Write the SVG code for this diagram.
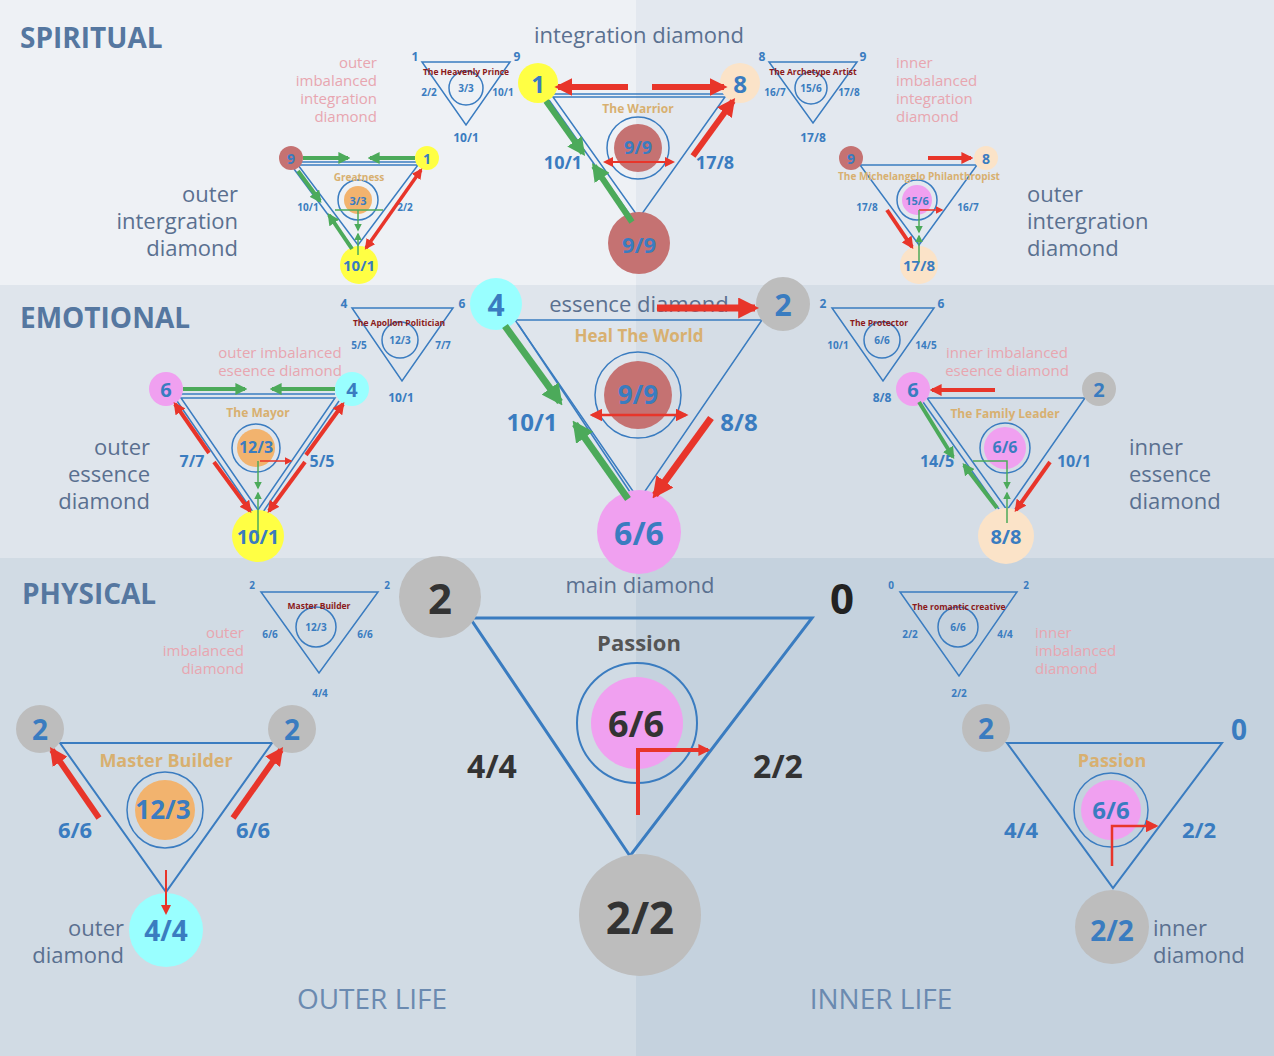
<svg xmlns="http://www.w3.org/2000/svg" width="1274" height="1056" viewBox="0 0 1274 1056">
<defs>
<marker id="hr" viewBox="0 0 10 10" refX="8" refY="5" markerWidth="3" markerHeight="3" orient="auto-start-reverse"><path d="M0,0L10,5L0,10z" fill="#e8352a"/></marker>
<marker id="hg" viewBox="0 0 10 10" refX="8" refY="5" markerWidth="3" markerHeight="3" orient="auto-start-reverse"><path d="M0,0L10,5L0,10z" fill="#4caa5a"/></marker>
<marker id="hrs" viewBox="0 0 10 10" refX="8" refY="5" markerWidth="5" markerHeight="5" orient="auto-start-reverse"><path d="M0,0L10,5L0,10z" fill="#e8352a"/></marker>
<marker id="hgs" viewBox="0 0 10 10" refX="8" refY="5" markerWidth="5" markerHeight="5" orient="auto-start-reverse"><path d="M0,0L10,5L0,10z" fill="#4caa5a"/></marker>
</defs>
<style>
text{font-family:"Open Sans","Noto Sans","DejaVu Sans",sans-serif;text-anchor:middle;dominant-baseline:central}
.b{fill:#3a7cc0;font-weight:bold}
.tri{fill:none;stroke:#3a7cc0;stroke-width:1.5}
.tri2{fill:none;stroke:#3a7cc0;stroke-width:3}
.ring{fill:none;stroke:#3a7cc0;stroke-width:1.5}
.gold{fill:#d8b070;font-weight:bold}
.dr{fill:#8b1a1a;font-weight:bold;font-size:8.5px}
.pk{fill:#e8a6b0;font-size:15px}
.gl{fill:#5a7090;font-size:22px}
.sec{fill:#5577a0;font-size:28px;font-weight:bold;text-anchor:start}
.r{stroke:#e8352a;fill:none}
.g{stroke:#4caa5a;fill:none}
.sb{fill:#3a7cc0;font-weight:bold;font-size:10px}
.sc{fill:#3a7cc0;font-weight:bold;font-size:12px}
</style>
<rect x="0" y="0" width="636" height="285" fill="#eef1f5"/>
<rect x="636" y="0" width="638" height="285" fill="#e3e8ef"/>
<rect x="0" y="285" width="636" height="273" fill="#dfe5ec"/>
<rect x="636" y="285" width="638" height="273" fill="#d5dde6"/>
<rect x="0" y="558" width="636" height="498" fill="#d1dbe4"/>
<rect x="636" y="558" width="638" height="498" fill="#c5d2de"/>
<text class="sec" x="20" y="37">SPIRITUAL</text>
<text class="sec" x="20" y="317">EMOTIONAL</text>
<text class="sec" x="22" y="593">PHYSICAL</text>
<text x="372" y="998" fill="#6b8ab0" font-size="28">OUTER LIFE</text>
<text x="881" y="998" fill="#6b8ab0" font-size="28">INNER LIFE</text>

<g id="heavenly-prince">
<polygon class="tri" points="422,62 510,62 466,125"/>
<circle class="ring" cx="466" cy="88" r="17"/>
<text class="dr" x="466" y="71">The Heavenly Prince</text>
<text class="sb" x="466" y="88">3/3</text>
<text class="sc" x="415" y="56">1</text><text class="sc" x="517" y="56">9</text>
<text class="sb" x="429" y="92">2/2</text><text class="sb" x="503" y="92">10/1</text>
<text class="sc" x="466" y="137">10/1</text>
</g>
<g id="archetype-artist">
<polygon class="tri" points="769,62 857,62 813,123"/>
<circle class="ring" cx="811" cy="88" r="16"/>
<text class="dr" x="813" y="71">The Archetype Artist</text>
<text class="sb" x="811" y="88">15/6</text>
<text class="sc" x="762" y="56">8</text><text class="sc" x="863" y="56">9</text>
<text class="sb" x="775" y="92">16/7</text><text class="sb" x="849" y="92">17/8</text>
<text class="sc" x="813" y="137">17/8</text>
</g>
<g id="spiritual-labels">
<text class="pk" x="377" y="62" style="text-anchor:end">outer</text>
<text class="pk" x="377" y="80" style="text-anchor:end">imbalanced</text>
<text class="pk" x="377" y="98" style="text-anchor:end">integration</text>
<text class="pk" x="377" y="116" style="text-anchor:end">diamond</text>
<text class="pk" x="896" y="62" style="text-anchor:start">inner</text>
<text class="pk" x="896" y="80" style="text-anchor:start">imbalanced</text>
<text class="pk" x="896" y="98" style="text-anchor:start">integration</text>
<text class="pk" x="896" y="116" style="text-anchor:start">diamond</text>
<text class="gl" x="238" y="193" style="text-anchor:end">outer</text>
<text class="gl" x="238" y="220" style="text-anchor:end">intergration</text>
<text class="gl" x="238" y="247" style="text-anchor:end">diamond</text>
<text class="gl" x="1027" y="193" style="text-anchor:start">outer</text>
<text class="gl" x="1027" y="220" style="text-anchor:start">intergration</text>
<text class="gl" x="1027" y="247" style="text-anchor:start">diamond</text>
<text class="gl" x="639" y="34">integration diamond</text>
</g>
<g id="warrior">
<polygon class="tri" points="553,97 725,97 639,218"/>
<line class="tri" x1="549" y1="100" x2="635" y2="222"/>
<line class="tri" x1="553" y1="94" x2="725" y2="94"/>
<circle cx="639" cy="243" r="31" fill="#c57272"/>
<text class="b" x="639" y="244" font-size="22">9/9</text>
<circle cx="538" cy="83" r="20" fill="#ffff44"/>
<text class="b" x="538" y="83" font-size="24">1</text>
<circle cx="740" cy="83" r="20" fill="#fbe3c8"/>
<text class="b" x="740" y="83" font-size="24">8</text>
<circle class="ring" cx="638" cy="148" r="31"/>
<circle cx="638" cy="148" r="24" fill="#c57272"/>
<text class="b" x="638" y="147" font-size="18">9/9</text>
<text class="gold" x="638" y="108" font-size="12">The Warrior</text>
<text class="b" x="563" y="162" font-size="18">10/1</text>
<text class="b" x="715" y="162" font-size="18">17/8</text>
</g>
<g id="greatness">
<polygon class="tri" points="298,165 418,165 358,245"/>
<line class="tri" x1="294" y1="169" x2="352" y2="247"/>
<line class="tri" x1="298" y1="162" x2="418" y2="162"/>
<circle cx="291" cy="158" r="12" fill="#c57272"/><text class="b" x="291" y="158" font-size="14">9</text>
<circle cx="427" cy="158" r="12" fill="#ffff44"/><text class="b" x="427" y="158" font-size="14">1</text>
<circle cx="359" cy="265" r="19" fill="#ffff44"/><text class="b" x="359" y="265" font-size="15">10/1</text>
<circle class="ring" cx="358" cy="200" r="20"/>
<circle cx="358" cy="200" r="14" fill="#f2b36e"/>
<text class="b" x="358" y="200" font-size="11">3/3</text>
<text class="gold" x="359" y="177" font-size="10">Greatness</text>
<text class="sb" x="308" y="207">10/1</text><text class="sb" x="405" y="207">2/2</text>
</g>
<g id="michelangelo">
<polygon class="tri" points="860,165 977,165 919,245"/>
<circle cx="851" cy="158" r="12" fill="#c57272"/><text class="b" x="851" y="158" font-size="14">9</text>
<circle cx="986" cy="158" r="12" fill="#fbe3c8"/><text class="b" x="986" y="158" font-size="14">8</text>
<circle cx="919" cy="265" r="19" fill="#fbe3c8"/><text class="b" x="919" y="265" font-size="15">17/8</text>
<circle class="ring" cx="917" cy="200" r="20"/>
<circle cx="917" cy="200" r="15" fill="#f0a0f0"/>
<text class="b" x="917" y="200" font-size="11">15/6</text>
<text class="gold" x="919" y="176" font-size="10">The Michelangelo Philanthropist</text>
<text class="sb" x="867" y="207">17/8</text><text class="sb" x="968" y="207">16/7</text>
</g>

<g id="apollon">
<polygon class="tri" points="352,308 453,308 402,381"/>
<circle class="ring" cx="400" cy="340" r="18"/>
<text class="dr" x="399" y="322">The Apollon Politician</text>
<text class="sb" x="400" y="340">12/3</text>
<text class="sc" x="344" y="303">4</text><text class="sc" x="462" y="303">6</text>
<text class="sb" x="359" y="345">5/5</text><text class="sb" x="443" y="345">7/7</text>
<text class="sc" x="401" y="397">10/1</text>
</g>
<g id="protector">
<polygon class="tri" points="832,308 934,308 883,381"/>
<circle class="ring" cx="882" cy="340" r="18"/>
<text class="dr" x="879" y="322">The Protector</text>
<text class="sb" x="882" y="340">6/6</text>
<text class="sc" x="823" y="303">2</text><text class="sc" x="941" y="303">6</text>
<text class="sb" x="838" y="345">10/1</text><text class="sb" x="926" y="345">14/5</text>
<text class="sc" x="882" y="397">8/8</text>
</g>
<g id="emotional-labels">
<text class="pk" x="280" y="352">outer imbalanced</text>
<text class="pk" x="280" y="370">eseence diamond</text>
<text class="pk" x="1007" y="352">inner imbalanced</text>
<text class="pk" x="1007" y="370">eseence diamond</text>
<text class="gl" x="150" y="446" style="text-anchor:end">outer</text>
<text class="gl" x="150" y="473" style="text-anchor:end">essence</text>
<text class="gl" x="150" y="500" style="text-anchor:end">diamond</text>
<text class="gl" x="1129" y="446" style="text-anchor:start">inner</text>
<text class="gl" x="1129" y="473" style="text-anchor:start">essence</text>
<text class="gl" x="1129" y="500" style="text-anchor:start">diamond</text>
<text class="gl" x="639" y="303">essence diamond</text>
</g>
<g id="heal-the-world">
<polygon class="tri" points="515,320 762,320 639,500"/>
<line class="tri" x1="518" y1="324" x2="632" y2="495"/>
<circle cx="496" cy="304" r="26" fill="#99ffff"/><text class="b" x="496" y="304" font-size="30">4</text>
<circle cx="783" cy="304" r="27" fill="#bdbdbd"/><text class="b" x="783" y="304" font-size="30">2</text>
<circle cx="639" cy="532" r="42" fill="#f0a0f0"/><text class="b" x="639" y="532" font-size="32">6/6</text>
<circle class="ring" cx="638" cy="395" r="43"/>
<circle cx="638" cy="395" r="34" fill="#c57272"/>
<text class="b" x="638" y="394" font-size="26">9/9</text>
<text class="gold" x="639" y="335" font-size="17">Heal The World</text>
<text class="b" x="532" y="421" font-size="24">10/1</text>
<text class="b" x="739" y="421" font-size="24">8/8</text>
</g>
<g id="mayor">
<polygon class="tri" points="181,398 335,398 258,510"/>
<line class="tri" x1="181" y1="394" x2="335" y2="394"/>
<line class="tri" x1="177" y1="401" x2="253" y2="512"/>
<line class="tri" x1="339" y1="401" x2="263" y2="512"/>
<circle cx="166" cy="389" r="17" fill="#f0a0f0"/><text class="b" x="166" y="389" font-size="20">6</text>
<circle cx="352" cy="389" r="17" fill="#99ffff"/><text class="b" x="352" y="389" font-size="20">4</text>
<circle cx="258" cy="536" r="26" fill="#ffff44"/><text class="b" x="258" y="536" font-size="20">10/1</text>
<circle class="ring" cx="256" cy="448" r="24"/>
<circle cx="256" cy="448" r="19" fill="#f2b36e"/>
<text class="b" x="256" y="447" font-size="16">12/3</text>
<text class="gold" x="258" y="412" font-size="12">The Mayor</text>
<text class="b" x="192" y="461" font-size="16">7/7</text>
<text class="b" x="322" y="461" font-size="16">5/5</text>
</g>
<g id="family-leader">
<polygon class="tri" points="927,398 1085,398 1007,510"/>
<line class="tri" x1="923" y1="402" x2="1001" y2="512"/>
<circle cx="913" cy="389" r="17" fill="#f0a0f0"/><text class="b" x="913" y="389" font-size="20">6</text>
<circle cx="1099" cy="389" r="17" fill="#bdbdbd"/><text class="b" x="1099" y="389" font-size="20">2</text>
<circle cx="1006" cy="536" r="28" fill="#fbe3c8"/><text class="b" x="1006" y="536" font-size="20">8/8</text>
<circle class="ring" cx="1005" cy="448" r="25"/>
<circle cx="1005" cy="448" r="21" fill="#f0a0f0"/>
<text class="b" x="1005" y="447" font-size="16">6/6</text>
<text class="gold" x="1005" y="413" font-size="12">The Family Leader</text>
<text class="b" x="937" y="461" font-size="16">14/5</text>
<text class="b" x="1074" y="461" font-size="16">10/1</text>
</g>

<g id="master-builder-small">
<polygon class="tri" points="261,592 378,592 319,673"/>
<circle class="ring" cx="316" cy="627" r="20"/>
<text class="dr" x="319" y="605">Master Builder</text>
<text class="sb" x="316" y="627" font-size="11">12/3</text>
<text class="sb" x="252" y="585" font-size="13">2</text><text class="sb" x="387" y="585" font-size="13">2</text>
<text class="sb" x="270" y="634">6/6</text><text class="sb" x="365" y="634">6/6</text>
<text class="sb" x="320" y="693" font-size="13">4/4</text>
</g>
<g id="romantic-creative">
<polygon class="tri" points="900,592 1017,592 959,676"/>
<circle class="ring" cx="958" cy="627" r="20"/>
<text class="dr" x="959" y="606">The romantic creative</text>
<text class="sb" x="958" y="627" font-size="11">6/6</text>
<text class="sb" x="891" y="585" font-size="13">0</text><text class="sb" x="1026" y="585" font-size="13">2</text>
<text class="sb" x="910" y="634">2/2</text><text class="sb" x="1005" y="634">4/4</text>
<text class="sb" x="959" y="693" font-size="13">2/2</text>
</g>
<g id="physical-labels">
<text class="pk" x="244" y="632" style="text-anchor:end">outer</text>
<text class="pk" x="244" y="650" style="text-anchor:end">imbalanced</text>
<text class="pk" x="244" y="668" style="text-anchor:end">diamond</text>
<text class="pk" x="1035" y="632" style="text-anchor:start">inner</text>
<text class="pk" x="1035" y="650" style="text-anchor:start">imbalanced</text>
<text class="pk" x="1035" y="668" style="text-anchor:start">diamond</text>
<text class="gl" x="124" y="927" style="text-anchor:end">outer</text>
<text class="gl" x="124" y="954" style="text-anchor:end">diamond</text>
<text class="gl" x="1153" y="927" style="text-anchor:start">inner</text>
<text class="gl" x="1153" y="954" style="text-anchor:start">diamond</text>
<text class="gl" x="640" y="584">main diamond</text>
</g>
<g id="master-builder">
<polygon class="tri2" points="60,743 272,743 166,892" style="stroke-width:2"/>
<circle cx="40" cy="729" r="24" fill="#bdbdbd"/><text class="b" x="40" y="729" font-size="28">2</text>
<circle cx="292" cy="729" r="24" fill="#bdbdbd"/><text class="b" x="292" y="729" font-size="28">2</text>
<circle cx="166" cy="930" r="37" fill="#99ffff"/><text class="b" x="166" y="930" font-size="28">4/4</text>
<circle class="ring" cx="165" cy="810" r="38"/>
<circle cx="165" cy="810" r="30" fill="#f2b36e"/>
<text class="b" x="163" y="809" font-size="26">12/3</text>
<text class="gold" x="166" y="760" font-size="18">Master Builder</text>
<text class="b" x="75" y="829" font-size="22">6/6</text>
<text class="b" x="253" y="829" font-size="22">6/6</text>
</g>
<g id="main-passion">
<polygon class="tri2" points="470,618 812,618 630,856"/>
<circle cx="440" cy="597" r="41" fill="#bdbdbd"/><text x="440" y="597" font-size="42" font-weight="bold" fill="#333">2</text>
<text x="842" y="597" font-size="42" font-weight="bold" fill="#222">0</text>
<circle cx="640" cy="915" r="61" fill="#bdbdbd"/><text x="640" y="917" font-size="44" font-weight="bold" fill="#333">2/2</text>
<circle class="ring" cx="637" cy="723" r="60" style="stroke-width:2"/>
<circle cx="637" cy="723" r="46" fill="#f0a0f0"/>
<text x="636" y="723" font-size="36" font-weight="bold" fill="#333">6/6</text>
<text x="639" y="642" font-size="22" font-weight="bold" fill="#555">Passion</text>
<text x="492" y="765" font-size="32" font-weight="bold" fill="#333">4/4</text>
<text x="778" y="765" font-size="32" font-weight="bold" fill="#333">2/2</text>
</g>
<g id="inner-passion">
<polygon class="tri2" points="1007,743 1222,743 1113,888" style="stroke-width:2"/>
<circle cx="986" cy="728" r="24" fill="#bdbdbd"/><text class="b" x="986" y="728" font-size="28">2</text>
<text class="b" x="1239" y="729" font-size="28">0</text>
<circle cx="1112" cy="927" r="37" fill="#bdbdbd"/><text class="b" x="1112" y="930" font-size="28">2/2</text>
<circle class="ring" cx="1111" cy="810" r="37"/>
<circle cx="1111" cy="810" r="30" fill="#f0a0f0"/>
<text class="b" x="1111" y="809" font-size="24">6/6</text>
<text class="gold" x="1112" y="760" font-size="18">Passion</text>
<text class="b" x="1021" y="829" font-size="22">4/4</text>
<text class="b" x="1199" y="829" font-size="22">2/2</text>
</g>

<g id="connectors">
<line class="r" stroke-width="6" x1="628" y1="87" x2="558" y2="87" marker-end="url(#hr)"/>
<line class="r" stroke-width="6" x1="652" y1="87" x2="724" y2="87" marker-end="url(#hr)"/>
<line class="g" stroke-width="6" x1="546" y1="101" x2="583" y2="153" marker-end="url(#hg)"/>
<line class="g" stroke-width="6" x1="632" y1="222" x2="594" y2="166" marker-end="url(#hg)"/>
<line class="r" stroke-width="6" x1="693" y1="156" x2="733" y2="101" marker-end="url(#hr)"/>
<line class="r" stroke-width="2" x1="605" y1="162" x2="673" y2="162" marker-start="url(#hrs)" marker-end="url(#hrs)"/>
<line class="g" stroke-width="4" x1="303" y1="158" x2="348" y2="158" marker-end="url(#hg)"/>
<line class="g" stroke-width="4" x1="415" y1="158" x2="370" y2="158" marker-end="url(#hg)"/>
<line class="g" stroke-width="4" x1="298" y1="171" x2="320" y2="201" marker-end="url(#hg)"/>
<line class="g" stroke-width="4" x1="352" y1="249" x2="329" y2="215" marker-end="url(#hg)"/>
<line class="r" stroke-width="3.5" x1="366" y1="248" x2="421" y2="170" marker-start="url(#hr)" marker-end="url(#hr)"/>
<line class="g" stroke-width="1.5" x1="335" y1="210" x2="383" y2="210"/>
<line class="g" stroke-width="1.5" x1="358" y1="210" x2="358" y2="230" marker-end="url(#hgs)"/>
<line class="g" stroke-width="1.5" x1="358" y1="255" x2="358" y2="234" marker-end="url(#hgs)"/>
<line class="r" stroke-width="4" x1="928" y1="158" x2="971" y2="158" marker-end="url(#hr)"/>
<line class="r" stroke-width="4" x1="887" y1="210" x2="912" y2="247" marker-end="url(#hr)"/>
<line class="r" stroke-width="1.5" x1="919" y1="210" x2="942" y2="210" marker-end="url(#hrs)"/>
<line class="g" stroke-width="1.5" x1="919" y1="210" x2="919" y2="232" marker-end="url(#hgs)"/>
<line class="g" stroke-width="1.5" x1="919" y1="262" x2="919" y2="236" marker-end="url(#hgs)"/>
<line class="g" stroke-width="7" x1="505" y1="326" x2="560" y2="402" marker-end="url(#hg)"/>
<line class="g" stroke-width="7" x1="628" y1="499" x2="575" y2="424" marker-end="url(#hg)"/>
<line class="r" stroke-width="7" x1="711" y1="418" x2="655" y2="495" marker-end="url(#hr)"/>
<line class="r" stroke-width="7" x1="657" y1="308" x2="755" y2="308" marker-end="url(#hr)"/>
<line class="r" stroke-width="2.5" x1="592" y1="415" x2="686" y2="415" marker-start="url(#hrs)" marker-end="url(#hrs)"/>
<line class="g" stroke-width="4" x1="183" y1="389" x2="245" y2="389" marker-end="url(#hg)"/>
<line class="g" stroke-width="4" x1="335" y1="389" x2="272" y2="389" marker-end="url(#hg)"/>
<line class="r" stroke-width="4" x1="209" y1="453" x2="175" y2="404" marker-end="url(#hr)"/>
<line class="r" stroke-width="4" x1="214" y1="462" x2="250" y2="511" marker-end="url(#hr)"/>
<line class="r" stroke-width="4" x1="306" y1="455" x2="343" y2="404" marker-end="url(#hr)"/>
<line class="r" stroke-width="4" x1="305" y1="462" x2="269" y2="511" marker-end="url(#hr)"/>
<line class="r" stroke-width="1.5" x1="260" y1="461" x2="291" y2="461" marker-end="url(#hrs)"/>
<line class="g" stroke-width="1.5" x1="258" y1="461" x2="258" y2="488" marker-end="url(#hgs)"/>
<line class="g" stroke-width="1.5" x1="258" y1="533" x2="258" y2="493" marker-end="url(#hgs)"/>
<line class="r" stroke-width="4" x1="995" y1="390" x2="932" y2="390" marker-end="url(#hr)"/>
<line class="g" stroke-width="4" x1="919" y1="402" x2="953" y2="457" marker-end="url(#hg)"/>
<line class="g" stroke-width="4" x1="997" y1="508" x2="964" y2="465" marker-end="url(#hg)"/>
<line class="r" stroke-width="4" x1="1050" y1="462" x2="1016" y2="510" marker-end="url(#hr)"/>
<polyline class="g" stroke-width="1.5" points="973,461 1007,461 1007,488" marker-end="url(#hgs)"/>
<line class="g" stroke-width="1.5" x1="1007" y1="523" x2="1007" y2="493" marker-end="url(#hgs)"/>
<line class="r" stroke-width="6" x1="99" y1="818" x2="52" y2="750" marker-end="url(#hr)"/>
<line class="r" stroke-width="6" x1="233" y1="818" x2="281" y2="750" marker-end="url(#hr)"/>
<line class="r" stroke-width="2" x1="166" y1="870" x2="166" y2="913" marker-end="url(#hrs)"/>
<polyline class="r" stroke-width="4" points="638,815 638,750 708,750" marker-end="url(#hr)"/>
<polyline class="r" stroke-width="2.5" points="1112,866 1112,826 1156,826" marker-end="url(#hrs)"/>
</g>
</svg>
